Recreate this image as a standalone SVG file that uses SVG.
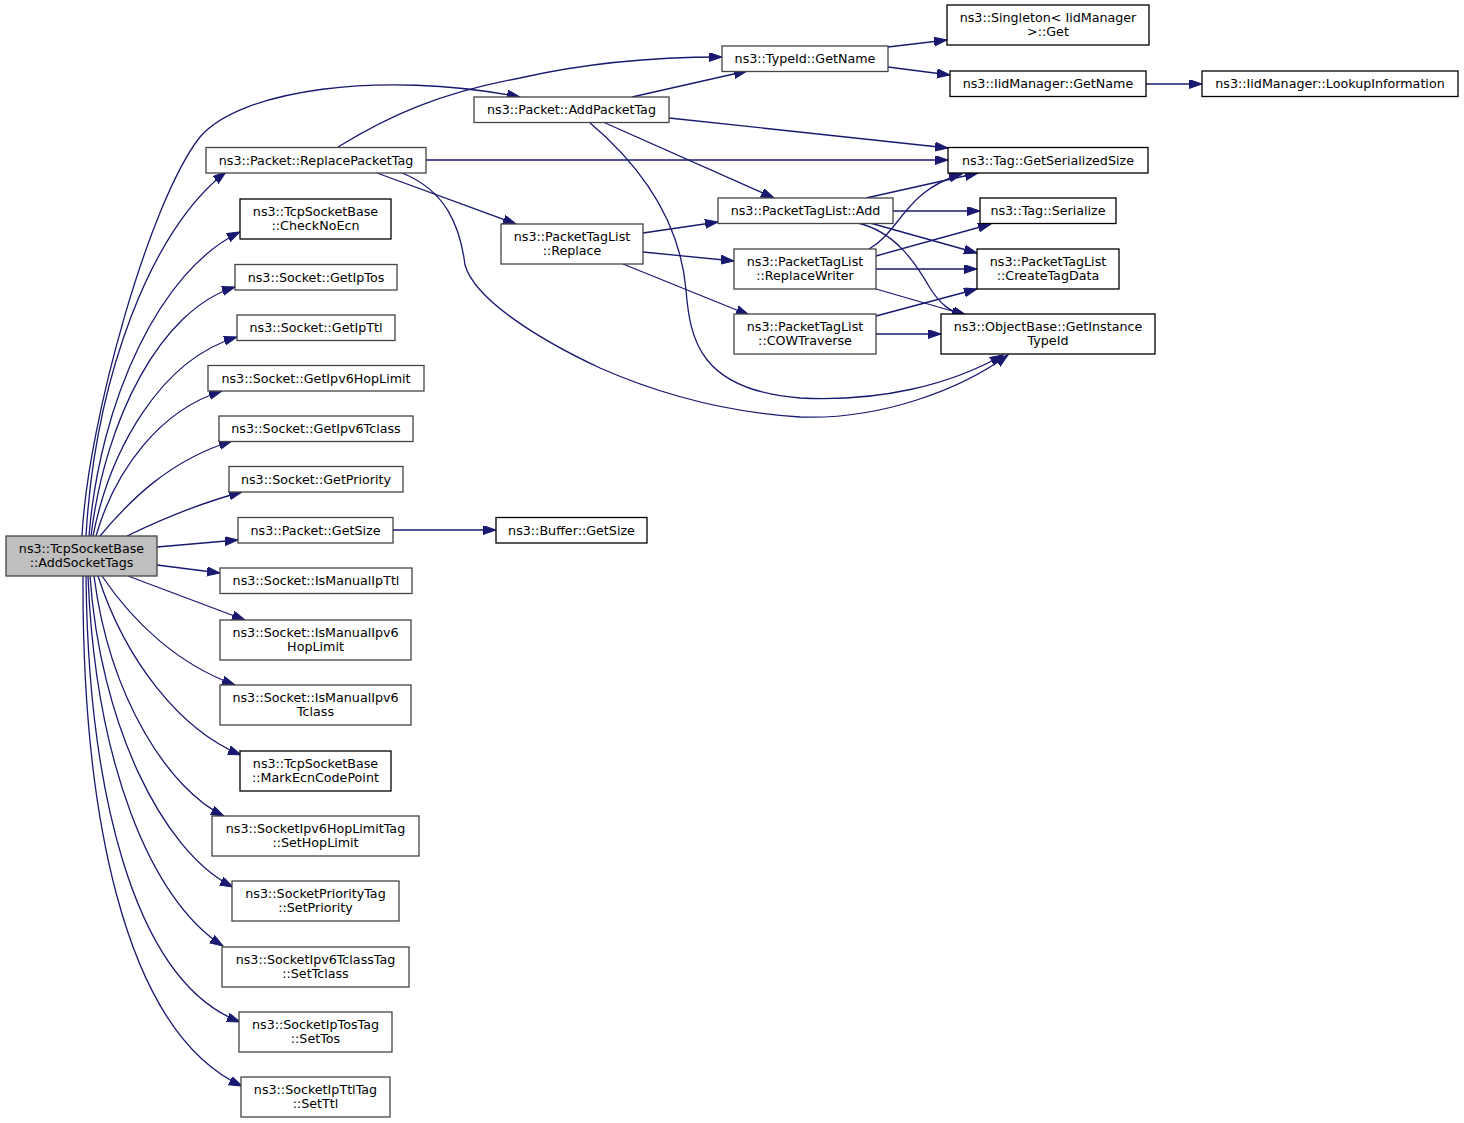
<svg xmlns="http://www.w3.org/2000/svg" width="1464" height="1123" viewBox="0 0 1464 1123">
<style>
.n rect{fill:#fff;stroke:#444;stroke-width:1.3}
.n.k rect{stroke:#000}
.n.m rect{fill:#bfbfbf}
text{font-family:"DejaVu Sans","Liberation Sans",sans-serif;font-size:12.7px;text-anchor:middle;fill:#000}
.e path{fill:none;stroke:#191970;stroke-width:1.3;marker-end:url(#a)}
</style>
<defs>
<marker id="a" markerUnits="userSpaceOnUse" markerWidth="14" markerHeight="10" refX="13" refY="4.5" orient="auto">
<path d="M0,0 L13,4.5 L0,9 z" fill="#191970" stroke="#191970" stroke-width="1"/>
</marker>
</defs>
<rect width="1464" height="1123" fill="#fff"/>
<g id="edges" class="e">
<path d="M82,536 C88,420 150,200 200,137 C240,90 380,70 520,97"/>
<path d="M86,536 C95,380 150,230 226,172"/>
<path d="M89,536 C100,400 160,270 240,232"/>
<path d="M91,536 C105,420 160,310 235,287"/>
<path d="M93,536 C110,450 160,360 237,337"/>
<path d="M96,536 C115,470 160,410 222,391"/>
<path d="M100,536 C130,500 170,460 232,441"/>
<path d="M127,536 C160,520 200,503 242,492"/>
<path d="M157,547 L238,540"/>
<path d="M157,565 L220,573"/>
<path d="M128,576 L245,620"/>
<path d="M102,576 C135,625 180,665 235,685"/>
<path d="M98,576 C125,660 180,730 241,755"/>
<path d="M94,576 C110,700 170,790 224,816"/>
<path d="M90,576 C100,720 160,850 233,887"/>
<path d="M88,576 C95,760 150,900 223,946"/>
<path d="M86,576 C88,780 130,980 240,1022"/>
<path d="M83,576 C82,800 120,1030 242,1086"/>
<path d="M338,147 C390,115 440,93 520,78 C590,62 660,57 722,57"/>
<path d="M426,160 L948,160"/>
<path d="M377,173 L516,224"/>
<path d="M402,173 C445,190 460,225 465,265 C475,300 540,340 600,368 C650,390 720,412 800,417 C880,420 960,390 1008,355"/>
<path d="M632,97 L747,71"/>
<path d="M669,118 L948,148"/>
<path d="M603,122 L774,198"/>
<path d="M589,122 C640,165 680,220 686,290 C690,340 700,390 800,398 C880,402 950,385 1003,355"/>
<path d="M888,47 L947,40"/>
<path d="M888,67 L950,75"/>
<path d="M1146,84 L1202,84"/>
<path d="M643,233 L718,222"/>
<path d="M643,252 L734,261"/>
<path d="M623,264 L749,315"/>
<path d="M866,198 L978,173"/>
<path d="M869,249 C900,232 905,190 962,174"/>
<path d="M893,211 L980,211"/>
<path d="M870,223 L977,253"/>
<path d="M858,223 C895,232 915,262 930,288 C940,304 950,312 965,315"/>
<path d="M876,256 L991,224"/>
<path d="M876,269 L977,269"/>
<path d="M876,289 L966,315"/>
<path d="M876,316 L977,289"/>
<path d="M876,334 L941,334"/>
<path d="M393,530 L496,530"/>
</g>
<g id="n_main" class="n m"><rect x="6" y="536" width="151" height="40"/><text x="81.5" y="552.5">ns3::TcpSocketBase</text><text x="81.5" y="567">::AddSocketTags</text></g>
<g id="n_replaceptag" class="n"><rect x="206" y="147.5" width="220" height="25.5"/><text x="316" y="164.5">ns3::Packet::ReplacePacketTag</text></g>
<g id="n_checknoecn" class="n k"><rect x="240" y="199" width="151" height="40"/><text x="315.5" y="215.5">ns3::TcpSocketBase</text><text x="315.5" y="230">::CheckNoEcn</text></g>
<g id="n_getiptos" class="n"><rect x="235" y="264.5" width="162" height="25.5"/><text x="316" y="281.5">ns3::Socket::GetIpTos</text></g>
<g id="n_getipttl" class="n"><rect x="237" y="315" width="158" height="25.5"/><text x="316" y="332">ns3::Socket::GetIpTtl</text></g>
<g id="n_getipv6hoplimit" class="n"><rect x="208" y="365.5" width="216" height="25.5"/><text x="316" y="382.5">ns3::Socket::GetIpv6HopLimit</text></g>
<g id="n_getipv6tclass" class="n"><rect x="219" y="416" width="194" height="25.5"/><text x="316" y="433">ns3::Socket::GetIpv6Tclass</text></g>
<g id="n_getpriority" class="n"><rect x="229" y="466.5" width="174" height="25.5"/><text x="316" y="483.5">ns3::Socket::GetPriority</text></g>
<g id="n_packetgetsize" class="n"><rect x="238" y="517.5" width="155" height="25.5"/><text x="315.5" y="534.5">ns3::Packet::GetSize</text></g>
<g id="n_ismanualipttl" class="n"><rect x="220" y="568" width="192" height="25.5"/><text x="316" y="585">ns3::Socket::IsManualIpTtl</text></g>
<g id="n_ismanualipv6hoplimit" class="n"><rect x="220" y="620" width="191" height="40"/><text x="315.5" y="636.5">ns3::Socket::IsManualIpv6</text><text x="315.5" y="651">HopLimit</text></g>
<g id="n_ismanualipv6tclass" class="n"><rect x="220" y="685" width="191" height="40"/><text x="315.5" y="701.5">ns3::Socket::IsManualIpv6</text><text x="315.5" y="716">Tclass</text></g>
<g id="n_markecn" class="n k"><rect x="240" y="751" width="151" height="40"/><text x="315.5" y="767.5">ns3::TcpSocketBase</text><text x="315.5" y="782">::MarkEcnCodePoint</text></g>
<g id="n_sethoplimit" class="n"><rect x="212" y="816" width="207" height="40"/><text x="315.5" y="832.5">ns3::SocketIpv6HopLimitTag</text><text x="315.5" y="847">::SetHopLimit</text></g>
<g id="n_setpriority" class="n"><rect x="232" y="881" width="167" height="40"/><text x="315.5" y="897.5">ns3::SocketPriorityTag</text><text x="315.5" y="912">::SetPriority</text></g>
<g id="n_settclass" class="n"><rect x="222" y="947" width="187" height="40"/><text x="315.5" y="963.5">ns3::SocketIpv6TclassTag</text><text x="315.5" y="978">::SetTclass</text></g>
<g id="n_settos" class="n"><rect x="239" y="1012" width="153" height="40"/><text x="315.5" y="1028.5">ns3::SocketIpTosTag</text><text x="315.5" y="1043">::SetTos</text></g>
<g id="n_setttl" class="n"><rect x="241" y="1077" width="149" height="40"/><text x="315.5" y="1093.5">ns3::SocketIpTtlTag</text><text x="315.5" y="1108">::SetTtl</text></g>
<g id="n_addpackettag" class="n"><rect x="474" y="97" width="195" height="25.5"/><text x="571.5" y="114">ns3::Packet::AddPacketTag</text></g>
<g id="n_replace" class="n"><rect x="501" y="224" width="142" height="40"/><text x="572" y="240.5">ns3::PacketTagList</text><text x="572" y="255">::Replace</text></g>
<g id="n_buffergetsize" class="n k"><rect x="496" y="517.5" width="151" height="25.5"/><text x="571.5" y="534.5">ns3::Buffer::GetSize</text></g>
<g id="n_typeidgetname" class="n"><rect x="722" y="46" width="166" height="25.5"/><text x="805" y="63">ns3::TypeId::GetName</text></g>
<g id="n_add" class="n"><rect x="718" y="198" width="175" height="25.5"/><text x="805.5" y="215">ns3::PacketTagList::Add</text></g>
<g id="n_replacewriter" class="n"><rect x="734" y="249" width="142" height="40"/><text x="805" y="265.5">ns3::PacketTagList</text><text x="805" y="280">::ReplaceWriter</text></g>
<g id="n_cowtraverse" class="n"><rect x="734" y="314" width="142" height="40"/><text x="805" y="330.5">ns3::PacketTagList</text><text x="805" y="345">::COWTraverse</text></g>
<g id="n_singleton" class="n k"><rect x="947" y="5" width="202" height="40"/><text x="1048" y="21.5">ns3::Singleton&lt; IidManager</text><text x="1048" y="36">&gt;::Get</text></g>
<g id="n_iidgetname" class="n k"><rect x="950" y="71" width="196" height="25.5"/><text x="1048" y="88">ns3::IidManager::GetName</text></g>
<g id="n_lookup" class="n k"><rect x="1202" y="71" width="256" height="25.5"/><text x="1330" y="88">ns3::IidManager::LookupInformation</text></g>
<g id="n_getserializedsize" class="n k"><rect x="948" y="147.5" width="200" height="25.5"/><text x="1048" y="164.5">ns3::Tag::GetSerializedSize</text></g>
<g id="n_serialize" class="n k"><rect x="980" y="198" width="136" height="25.5"/><text x="1048" y="215">ns3::Tag::Serialize</text></g>
<g id="n_createtagdata" class="n k"><rect x="977" y="249" width="142" height="40"/><text x="1048" y="265.5">ns3::PacketTagList</text><text x="1048" y="280">::CreateTagData</text></g>
<g id="n_getinstancetypeid" class="n k"><rect x="941" y="314" width="214" height="40"/><text x="1048" y="330.5">ns3::ObjectBase::GetInstance</text><text x="1048" y="345">TypeId</text></g>
</svg>
